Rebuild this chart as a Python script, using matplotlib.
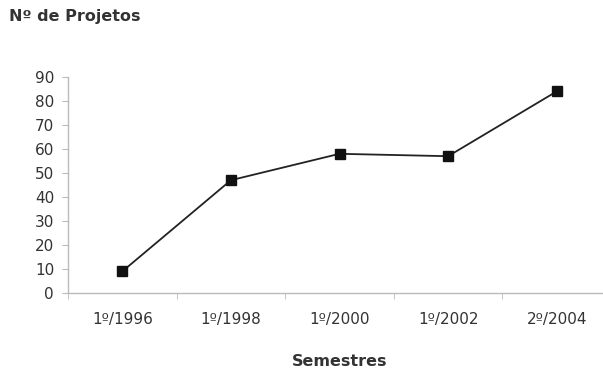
import matplotlib.pyplot as plt

semestres = ["1º/1996", "1º/1998", "1º/2000", "1º/2002", "2º/2004"]
projetos = [9, 47, 58, 57, 84]
y_ticks = list(range(0, 100, 10))

plt.rcParams["font.family"] = ["DejaVu Sans"]

fig = plt.figure(figsize=(6.03, 3.74), dpi=100)
# axes run a little past the right edge, as in the original layout
ax = fig.add_axes([68 / 603, 1 - 293 / 374, 543 / 603, 216 / 374])

x = list(range(len(semestres)))
ax.plot(x, projetos, color="#222222", linewidth=1.3, marker="s",
        markersize=6.5, markerfacecolor="#111111", markeredgecolor="#111111")

ax.set_xlim(-0.5, len(semestres) - 0.5)
ax.set_ylim(0, 90)
ax.set_yticks(y_ticks)
ax.set_xticks(x)
ax.set_xticklabels(semestres)
ax.set_xticks([i - 0.5 for i in range(len(semestres) + 1)], minor=True)
ax.tick_params(axis="x", which="major", length=0, pad=14)
ax.tick_params(axis="x", which="minor", length=4, color="#bbbbbb")
ax.tick_params(axis="y", length=4, color="#bbbbbb", pad=6)
ax.tick_params(labelsize=11, labelcolor="#333333")

for side in ["top", "right"]:
    ax.spines[side].set_visible(False)
for side in ["left", "bottom"]:
    ax.spines[side].set_color("#bbbbbb")
    ax.spines[side].set_linewidth(1.0)

fig.text(9 / 603, 1 - 17 / 374, "Nº de Projetos", fontsize=11.5,
         fontweight="bold", color="#333333", va="center", ha="left")
fig.text(340 / 603, 1 - 362 / 374, "Semestres", fontsize=11.5,
         fontweight="bold", color="#333333", va="center", ha="center")

fig.savefig("out.png", dpi=100)
